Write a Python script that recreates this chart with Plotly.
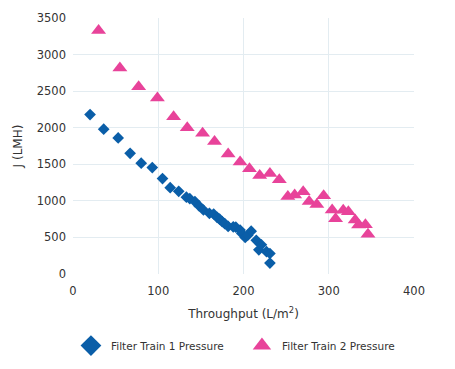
import plotly.graph_objects as go

# Filter Train 1 Pressure (blue diamonds)
train1_x = [20, 36, 53, 67, 80, 93, 105, 114, 124, 133, 137, 143, 148, 153, 160, 165,
            169, 172, 175, 178, 182, 188, 191, 196, 198, 202, 205, 209, 215, 218, 221,
            227, 231, 231]
train1_y = [2180, 1980, 1860, 1650, 1515, 1455, 1305, 1180, 1130, 1050, 1030, 990, 930,
            875, 830, 820, 775, 750, 715, 690, 650, 645, 640, 600, 555, 500, 530, 585,
            460, 330, 400, 305, 280, 150]

# Filter Train 2 Pressure (pink triangles)
train2_x = [30, 55, 77, 99, 118, 134, 152, 166, 182, 196, 207, 219, 231, 242, 252, 260,
            270, 277, 286, 294, 304, 308, 317, 323, 331, 335, 343, 346]
train2_y = [3330, 2815, 2560, 2405, 2150, 2000, 1925, 1810, 1640, 1530, 1440, 1345, 1375,
            1290, 1060, 1080, 1125, 990, 950, 1070, 875, 755, 870, 852, 739, 670, 675, 545]

x_ticks = [0, 100, 200, 300, 400]
y_ticks = [0, 500, 1000, 1500, 2000, 2500, 3000, 3500]

series_names = ["Filter Train 1 Pressure", "Filter Train 2 Pressure"]
series_colors = ["#0a5ea8", "#e8439a"]
series_symbols = ["diamond", "triangle-up"]

FONT = "DejaVu Sans, Verdana, sans-serif"
GRID = "#e3ecf1"

fig = go.Figure()
for i, (xs, ys, size) in enumerate([(train1_x, train1_y, 9), (train2_x, train2_y, 13)]):
    fig.add_trace(go.Scatter(
        x=xs, y=ys, mode="markers", name=series_names[i], legendgroup=f"g{i}",
        showlegend=False,
        marker=dict(symbol=series_symbols[i], size=size, color=series_colors[i],
                    line=dict(width=0)),
    ))
    # legend entry with a larger symbol (no data of its own)
    fig.add_trace(go.Scatter(
        x=[None], y=[None], mode="markers", name=series_names[i], legendgroup=f"g{i}",
        showlegend=True,
        marker=dict(symbol=series_symbols[i], size=20, color=series_colors[i],
                    line=dict(width=0)),
    ))

fig.update_layout(
    width=455, height=369,
    margin=dict(l=73, r=41, t=18, b=95, autoexpand=False),
    paper_bgcolor="white", plot_bgcolor="white",
    font=dict(family=FONT, size=11.5, color="#333333"),
    showlegend=True,
    legend=dict(orientation="h", x=-0.006, xanchor="left", y=-0.223, yanchor="top",
                font=dict(size=10.5, color="#333333"), itemsizing="trace",
                entrywidth=126, entrywidthmode="pixels"),
    xaxis=dict(range=[0, 400], tickvals=x_ticks, showgrid=True, gridcolor=GRID,
               zeroline=False, showline=False, ticks="", automargin=False,
               ticklabelstandoff=8,
               title=dict(text="Throughput (L/m<sup>2</sup>)", font=dict(size=12), standoff=13)),
    yaxis=dict(range=[0, 3500], tickvals=y_ticks, showgrid=True, gridcolor=GRID,
               zeroline=False, showline=False, ticks="", automargin=False,
               ticklabelstandoff=6,
               title=dict(text="J (LMH)", font=dict(size=12), standoff=11)),
)

fig.write_html("out.html", config={"displayModeBar": False},
               post_script="document.body.style.margin='0';")
